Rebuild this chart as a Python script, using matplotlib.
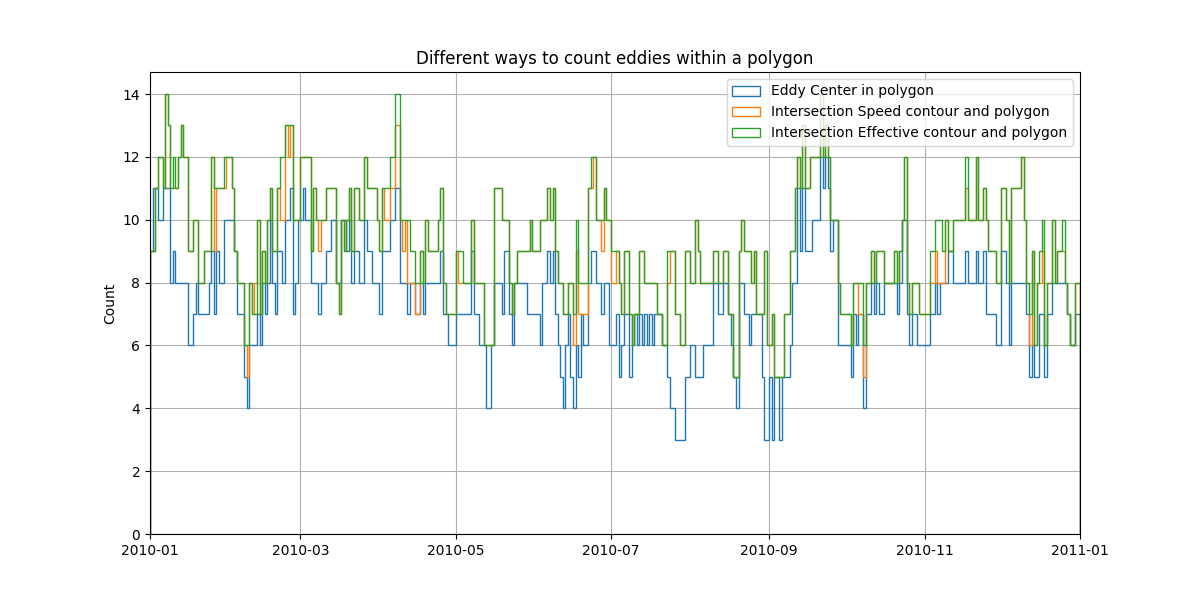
import numpy as np
import pandas as pd
import matplotlib
matplotlib.use('Agg')
import matplotlib.pyplot as plt
import matplotlib.dates as mdates

# daily counts for 2010 (365 days)
center = [
    9, 11, 11, 10, 10, 11, 11, 11, 8, 9, 8, 8, 8, 8, 8, 6, 6, 7, 8, 7, 7, 7, 7, 8, 9, 7, 9, 8, 8, 10, 10,
    10, 10, 9, 7, 7, 7, 5, 4, 6, 6, 6, 7, 6, 8, 7, 8, 10, 8, 7, 9, 9, 8, 10, 10, 11, 7, 8, 10, 10, 11,
    10, 10, 8, 8, 8, 7, 8, 8, 9, 9, 10, 10, 8, 8, 10, 10, 9, 10, 8, 9, 9, 8, 8, 10, 9, 9, 8, 8, 8, 7, 9,
    9, 9, 10, 10, 11, 11, 8, 8, 8, 7, 8, 8, 7, 7, 8, 7, 8, 8, 8, 8, 8, 8, 9, 7, 7, 6, 6, 6, 7, 7, 7,
    7, 7, 7, 9, 7, 7, 6, 6, 6, 4, 4, 6, 8, 8, 8, 7, 9, 9, 7, 6, 8, 8, 8, 8, 8, 7, 7, 7, 7, 7, 6,
    8, 8, 9, 8, 9, 7, 6, 5, 4, 6, 7, 5, 4, 6, 5, 7, 6, 6, 8, 9, 9, 8, 8, 7, 8, 8, 6, 6, 6, 7, 5,
    6, 7, 7, 5, 6, 7, 6, 7, 6, 7, 6, 7, 6, 7, 7, 7, 6, 6, 5, 4, 4, 3, 3, 3, 3, 5, 5, 6, 6, 5, 5,
    5, 6, 6, 6, 6, 8, 8, 7, 7, 8, 8, 7, 6, 5, 4, 8, 8, 7, 7, 6, 7, 7, 7, 7, 5, 3, 3, 5, 3, 5, 5,
    3, 5, 5, 5, 6, 8, 8, 11, 9, 11, 9, 9, 9, 10, 10, 10, 12, 11, 12, 11, 9, 10, 10, 6, 6, 6, 6, 6, 5, 7, 6,
    7, 7, 4, 7, 7, 8, 7, 8, 7, 7, 8, 8, 8, 8, 8, 7, 8, 10, 10, 7, 6, 7, 7, 6, 6, 6, 6, 6, 7, 7, 8,
    7, 8, 8, 8, 9, 9, 8, 8, 8, 8, 8, 9, 8, 8, 8, 9, 8, 8, 9, 7, 7, 7, 7, 6, 6, 9, 9, 8, 6, 8, 8,
    8, 8, 8, 8, 7, 5, 6, 5, 5, 7, 7, 5, 7, 7, 8, 8, 8, 8, 8, 8, 7, 6, 6, 7, 7,
]

speed = [
    9, 9, 11, 12, 12, 11, 14, 13, 11, 11, 11, 12, 13, 12, 12, 9, 9, 10, 10, 8, 8, 9, 9, 9, 12, 9, 11, 11, 11, 11, 12,
    12, 11, 9, 8, 8, 8, 6, 5, 8, 7, 8, 10, 7, 9, 8, 10, 11, 9, 9, 11, 10, 10, 13, 12, 13, 10, 10, 10, 12, 12,
    12, 12, 9, 11, 10, 9, 10, 10, 11, 11, 11, 11, 8, 7, 10, 9, 10, 11, 9, 11, 11, 10, 10, 12, 11, 11, 11, 11, 10, 9, 11,
    10, 10, 11, 11, 13, 13, 10, 9, 10, 8, 8, 8, 7, 7, 9, 8, 10, 9, 9, 9, 9, 10, 11, 8, 7, 7, 7, 7, 9, 8, 8,
    8, 8, 8, 10, 8, 8, 8, 8, 6, 6, 6, 6, 11, 11, 11, 10, 10, 10, 8, 7, 8, 9, 9, 9, 9, 9, 10, 9, 9, 9, 10,
    10, 10, 11, 10, 11, 9, 8, 8, 7, 7, 8, 8, 6, 9, 7, 7, 7, 7, 11, 11, 12, 10, 10, 9, 11, 10, 10, 8, 8, 9, 8,
    7, 9, 9, 7, 6, 7, 7, 9, 9, 8, 8, 8, 8, 8, 7, 7, 6, 6, 8, 9, 9, 7, 7, 6, 6, 9, 9, 8, 8, 10, 9,
    8, 8, 8, 8, 8, 9, 9, 8, 8, 9, 9, 7, 7, 5, 5, 9, 10, 9, 9, 9, 8, 9, 7, 7, 7, 9, 6, 6, 7, 5, 5,
    5, 5, 7, 7, 9, 9, 11, 12, 11, 13, 11, 11, 12, 12, 12, 12, 14, 12, 13, 12, 10, 10, 10, 8, 7, 7, 7, 7, 6, 8, 8,
    7, 7, 5, 8, 8, 9, 8, 9, 9, 9, 8, 8, 8, 8, 9, 8, 9, 10, 12, 8, 7, 8, 8, 8, 7, 7, 7, 7, 8, 8, 9,
    8, 8, 8, 10, 9, 9, 10, 10, 10, 10, 10, 11, 10, 10, 10, 12, 10, 10, 11, 10, 9, 9, 9, 8, 8, 11, 11, 10, 8, 11, 11,
    11, 11, 12, 10, 8, 6, 9, 6, 8, 8, 9, 6, 8, 8, 10, 8, 9, 9, 9, 8, 7, 6, 6, 8, 8,
]

effective = [
    9, 9, 11, 12, 12, 11, 14, 13, 11, 12, 11, 12, 13, 12, 12, 9, 9, 10, 10, 8, 8, 9, 9, 9, 12, 11, 11, 11, 11, 12, 12,
    12, 11, 9, 8, 8, 8, 6, 6, 8, 7, 7, 10, 7, 9, 8, 10, 11, 9, 9, 11, 12, 12, 13, 13, 13, 10, 10, 10, 12, 12,
    12, 12, 9, 11, 10, 10, 10, 10, 11, 11, 11, 11, 8, 7, 10, 9, 10, 11, 9, 11, 11, 10, 10, 12, 11, 11, 11, 11, 10, 9, 11,
    11, 11, 12, 12, 14, 14, 10, 10, 10, 10, 9, 9, 8, 8, 9, 8, 10, 9, 9, 9, 9, 10, 11, 8, 7, 7, 7, 7, 9, 9, 9,
    8, 8, 8, 10, 8, 8, 8, 8, 6, 6, 6, 6, 11, 11, 11, 10, 10, 10, 8, 7, 8, 9, 9, 9, 9, 9, 10, 9, 9, 9, 10,
    10, 10, 11, 10, 11, 9, 8, 8, 7, 7, 8, 8, 7, 10, 8, 8, 8, 8, 11, 12, 12, 10, 10, 10, 11, 10, 10, 9, 9, 9, 8,
    7, 9, 9, 7, 6, 7, 7, 9, 9, 8, 8, 8, 8, 8, 7, 7, 6, 6, 9, 9, 9, 7, 7, 6, 6, 9, 9, 8, 8, 10, 9,
    8, 8, 8, 8, 8, 9, 9, 8, 8, 9, 9, 7, 7, 5, 5, 9, 10, 9, 9, 9, 8, 9, 7, 7, 7, 9, 6, 6, 7, 5, 5,
    5, 5, 7, 7, 9, 9, 11, 12, 11, 13, 11, 11, 12, 12, 12, 12, 14, 12, 13, 12, 10, 10, 10, 8, 7, 7, 7, 7, 6, 8, 8,
    8, 8, 6, 8, 8, 9, 8, 9, 9, 9, 8, 8, 8, 8, 9, 8, 9, 10, 12, 8, 7, 8, 8, 8, 7, 7, 7, 7, 9, 9, 10,
    10, 10, 9, 10, 9, 9, 10, 10, 10, 10, 10, 12, 10, 10, 10, 12, 10, 10, 11, 10, 9, 9, 9, 8, 8, 11, 11, 10, 8, 11, 11,
    11, 11, 12, 10, 8, 7, 9, 6, 8, 9, 10, 6, 8, 8, 10, 8, 9, 9, 10, 8, 7, 6, 6, 8, 8,
]

labels = ['Eddy Center in polygon',
          'Intersection Speed contour and polygon',
          'Intersection Effective contour and polygon']


def main():
    edges = mdates.date2num(pd.date_range('2010-01-01', '2011-01-01', freq='D').to_pydatetime())

    fig = plt.figure(figsize=(12, 6), dpi=100)
    ax = fig.add_subplot(111)
    for vals, lab in zip([center, speed, effective], labels):
        ax.hist(edges[:-1], bins=edges, weights=np.array(vals), histtype='step', label=lab)

    ax.xaxis.set_major_locator(mdates.MonthLocator(bymonth=[1, 3, 5, 7, 9, 11]))
    ax.xaxis.set_major_formatter(mdates.DateFormatter('%Y-%m'))
    ax.set_xlim(edges[0], edges[-1])
    ax.set_ylim(0, 14.7)
    ax.set_title('Different ways to count eddies within a polygon')
    ax.set_ylabel('Count')
    ax.legend(loc='upper right')
    ax.grid()
    fig.savefig('out.png')


if __name__ == '__main__':
    main()
